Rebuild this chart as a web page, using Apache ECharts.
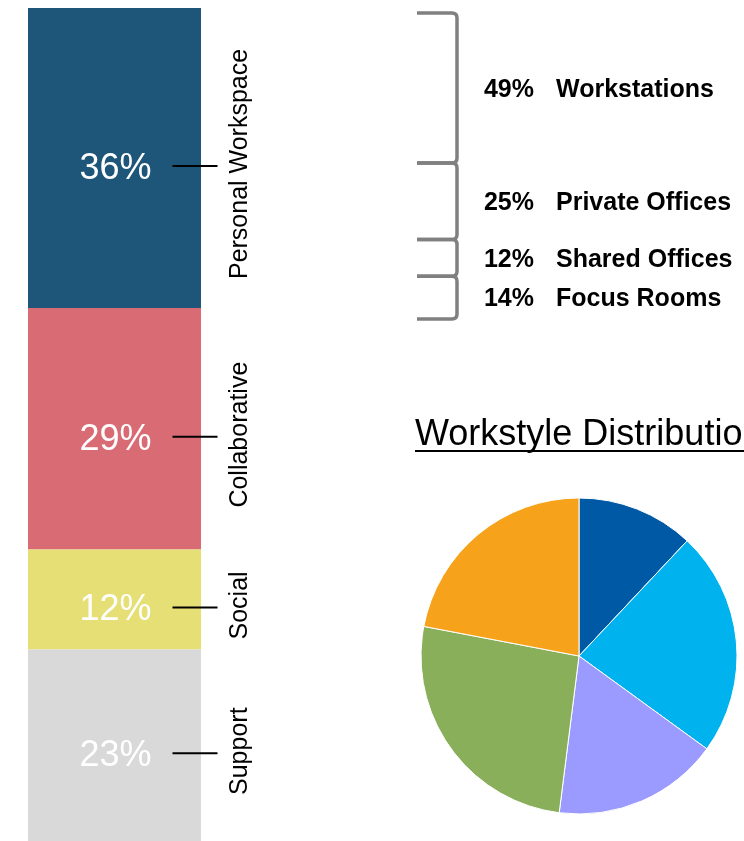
<!DOCTYPE html>
<html>
<head>
<meta charset="utf-8">
<script src="https://cdn.jsdelivr.net/npm/echarts@6/dist/echarts.min.js"></script>
<style>
  html, body { margin: 0; padding: 0; background: #fff; }
  #chart { width: 744px; height: 841px; }
</style>
</head>
<body>
<div id="chart"></div>
<script>
// space groups (left stacked bar)
var groupNames = ['Personal Workspace', 'Collaborative', 'Social', 'Support'];
var groupValues = [36, 29, 12, 23];
var groupColors = ['#1e5679', '#d96b74', '#e6df76', '#d9d9d9'];

// personal workspace breakdown (braces)
var subNames = ['Workstations', 'Private Offices', 'Shared Offices', 'Focus Rooms'];
var subValues = [49, 25, 12, 14];

// workstyle pie
var styleNames = ['Style 1', 'Style 2', 'Style 3', 'Style 4', 'Style 5'];
var styleValues = [12, 23, 17, 26, 22];
var styleColors = ['#0059a4', '#00b2ee', '#9b9bff', '#8aaf5b', '#f7a21b'];

var font = 'Liberation Sans, Arial, sans-serif';

// cumulative positions
var tickData = [];
var acc = 0;
groupValues.forEach(function (v, i) {
    tickData.push([0, acc + v / 2, groupNames[i]]);
    acc += v;
});
var braceData = [];
acc = 0;
subValues.forEach(function (v, i) {
    braceData.push([acc, acc + v, v, subNames[i]]);
    acc += v;
});

var series = groupNames.map(function (name, i) {
    return {
        name: name,
        type: 'bar',
        stack: 'total',
        barWidth: '100%',
        xAxisIndex: 0,
        yAxisIndex: 0,
        itemStyle: { color: groupColors[i] },
        label: {
            show: true,
            position: 'inside',
            formatter: '{c}%',
            color: '#fff',
            fontSize: 36,
            fontFamily: font,
            offset: [1, 11]
        },
        emphasis: { disabled: true },
        data: [groupValues[i]]
    };
});

// tick lines and rotated names
series.push({
    type: 'custom',
    xAxisIndex: 0,
    yAxisIndex: 0,
    silent: true,
    z: 5,
    data: tickData,
    renderItem: function (params, api) {
        var p = api.coord([api.value(0), api.value(1)]);
        var y = p[1] + 8;
        return {
            type: 'group',
            children: [
                {
                    type: 'line',
                    shape: { x1: p[0] + 58, y1: y, x2: p[0] + 103, y2: y },
                    style: { stroke: '#000', lineWidth: 2 }
                },
                {
                    type: 'text',
                    x: p[0] + 126,
                    y: y - 2,
                    rotation: Math.PI / 2,
                    style: {
                        text: tickData[params.dataIndex][2],
                        fill: '#000',
                        font: '25px ' + font,
                        align: 'center',
                        verticalAlign: 'middle'
                    }
                }
            ]
        };
    }
});

// braces
series.push({
    type: 'custom',
    xAxisIndex: 1,
    yAxisIndex: 1,
    silent: true,
    data: braceData,
    renderItem: function (params, api) {
        var a = api.coord([0, api.value(0)]);
        var b = api.coord([1, api.value(1)]);
        var x0 = a[0], x1 = b[0], y0 = a[1], y1 = b[1];
        var r = 5;
        var path = 'M' + x0 + ' ' + y0 + ' L' + (x1 - r) + ' ' + y0 +
            ' Q' + x1 + ' ' + y0 + ' ' + x1 + ' ' + (y0 + r) +
            ' L' + x1 + ' ' + (y1 - r) +
            ' Q' + x1 + ' ' + y1 + ' ' + (x1 - r) + ' ' + y1 +
            ' L' + x0 + ' ' + y1;
        var ym = (y0 + y1) / 2 + 2;
        return {
            type: 'group',
            children: [
                {
                    type: 'path',
                    shape: { pathData: path },
                    style: { stroke: '#808080', lineWidth: 3.5, fill: null }
                },
                {
                    type: 'text',
                    x: x1 + 77,
                    y: ym,
                    style: {
                        text: api.value(2) + '%',
                        fill: '#000',
                        font: 'bold 25px ' + font,
                        align: 'right',
                        verticalAlign: 'middle'
                    }
                },
                {
                    type: 'text',
                    x: x1 + 99,
                    y: ym,
                    style: {
                        text: braceData[params.dataIndex][3],
                        fill: '#000',
                        font: 'bold 25px ' + font,
                        align: 'left',
                        verticalAlign: 'middle'
                    }
                }
            ]
        };
    }
});

series.push({
    type: 'pie',
    center: [579, 656],
    radius: 158,
    startAngle: 90,
    clockwise: true,
    silent: true,
    label: { show: false },
    labelLine: { show: false },
    itemStyle: { borderColor: '#fff', borderWidth: 1 },
    data: styleNames.map(function (n, i) {
        return { name: n, value: styleValues[i], itemStyle: { color: styleColors[i] } };
    })
});

var option = {
    animation: false,
    grid: [
        { left: 28, top: 8, width: 173, height: 842 },
        { left: 417, top: 13, width: 40, height: 306 }
    ],
    xAxis: [
        { type: 'category', gridIndex: 0, data: ['Space'], show: false },
        { type: 'value', gridIndex: 1, min: 0, max: 1, show: false }
    ],
    yAxis: [
        { type: 'value', gridIndex: 0, min: 0, max: 100, inverse: true, show: false },
        { type: 'value', gridIndex: 1, min: 0, max: 100, inverse: true, show: false }
    ],
    graphic: [
        {
            type: 'text',
            left: 415,
            top: 417,
            style: { text: 'Workstyle Distribution', fill: '#000', font: '36px ' + font }
        },
        {
            type: 'line',
            shape: { x1: 415, y1: 451, x2: 760, y2: 451 },
            style: { stroke: '#000', lineWidth: 2 }
        }
    ],
    series: series
};

var myChart = echarts.init(document.getElementById('chart'));
myChart.setOption(option);
</script>
</body>
</html>
